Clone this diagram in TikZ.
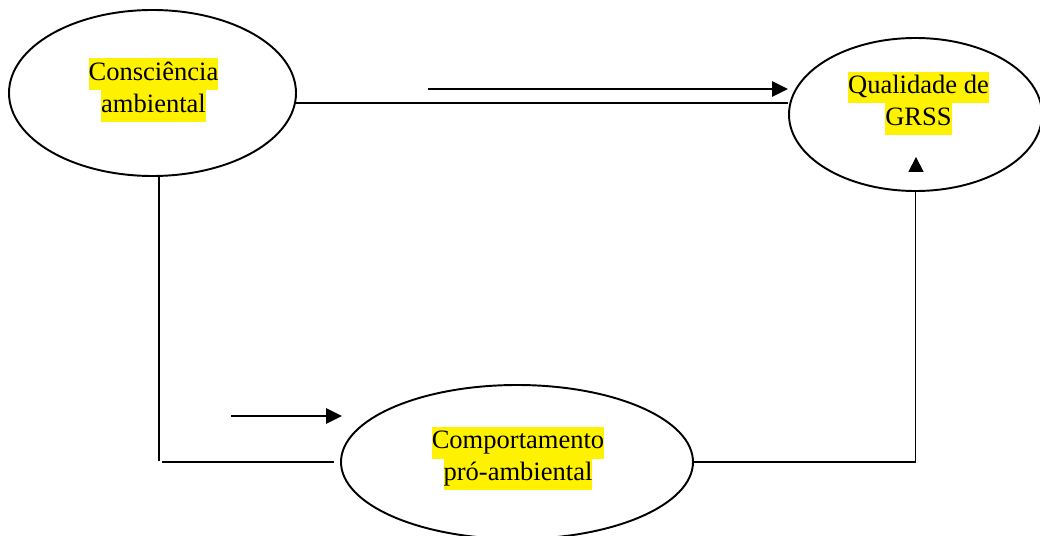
\documentclass[tikz,border=0pt]{standalone}
\usepackage{fontspec}
\setmainfont{Liberation Serif}
\usepackage{tikz}
\usetikzlibrary{shapes.geometric, arrows.meta}

\newcommand{\lsf}{\fontsize{15.1}{18.2}\selectfont}
\newcommand{\hl}[1]{{\setlength{\fboxsep}{0pt}\colorbox{yellow}{\strut #1}}}

\begin{document}
\begin{tikzpicture}[
  oval/.style = {ellipse, draw, line width=1.1pt, inner sep=0pt},
  tag/.style = {align=center, inner sep=0pt, font=\lsf},
  line/.style = {line width=1.1pt},
  arrow/.style = {-{Triangle[length=0.32cm,width=0.3cm]}, line width=1.5pt}
]
\useasboundingbox (0,0) rectangle (20.8,10.7);

% Ellipses
\node[oval, minimum width=5.74cm, minimum height=3.32cm] at (3.05,8.84) (aware) {};
\node[oval, minimum width=5.06cm, minimum height=3.06cm] at (18.31,8.41) (quality) {};
\node[oval, minimum width=7.04cm, minimum height=3.08cm] at (10.34,1.46) (behave) {};

% Texts
\node[tag] at (3.07,8.9) (awaretxt) {\hl{Consciência}\\\hl{ambiental}};
\node[tag] at (18.37,8.63) (qualitytxt) {\hl{Qualidade de}\\\hl{GRSS}};
\node[tag] at (10.36,1.53) (behavetxt) {\hl{Comportamento}\\\hl{pró-ambiental}};

% Free arrow ends and corners
\coordinate (topA) at (8.56,8.92);
\coordinate (topB) at (15.76,8.92);
\coordinate (lowA) at (4.62,2.38);
\coordinate (lowB) at (6.84,2.38);
\coordinate (corner) at (3.18,1.48);
\coordinate (baseA) at (3.24,1.46);
\coordinate (tip) at (18.32,7.56);

% Connectors
\draw[line] (aware.-4.4) -- (aware.-4.4 -| quality.west);
\draw[arrow] (topA) -- (topB);
\draw[line] (aware.south -| corner) -- (corner);
\draw[line] (baseA) -- ([xshift=-0.12cm]behave.west);
\draw[arrow] (lowA) -- (lowB);
\draw[line] (behave.east) -- (behave.east -| quality.south) -- (quality.south);

% Loose arrow head
\fill (tip) -- ++(-0.155,-0.3) -- ++(0.31,0) -- cycle;

\end{tikzpicture}
\end{document}
